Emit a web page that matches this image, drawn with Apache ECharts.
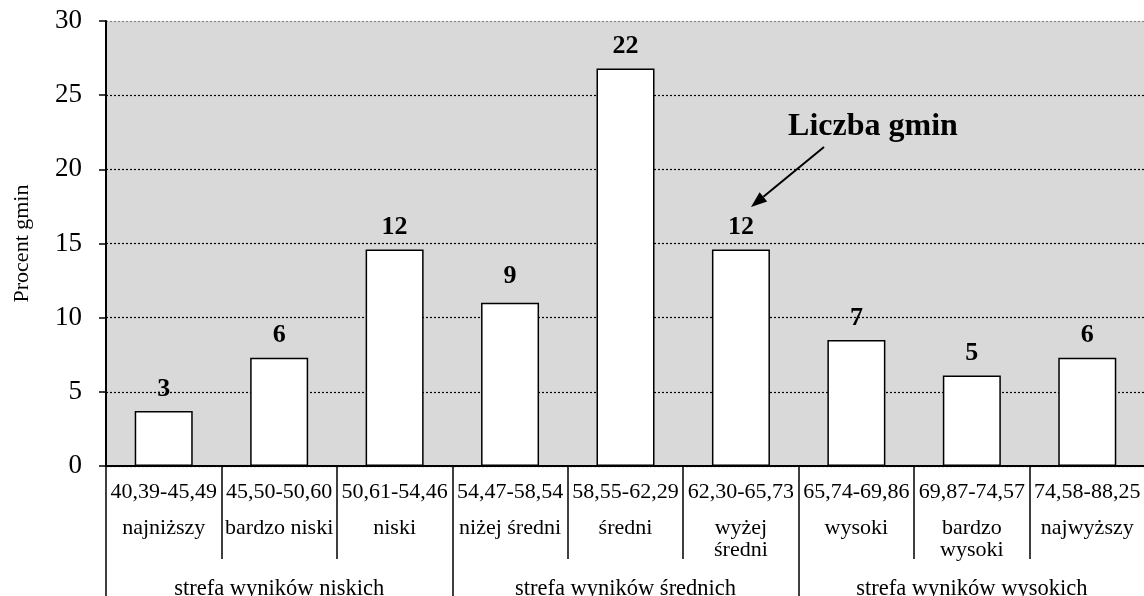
<!DOCTYPE html>
<html>
<head>
<meta charset="utf-8">
<script src="https://cdn.jsdelivr.net/npm/echarts@6/dist/echarts.min.js"></script>
<style>html,body{margin:0;padding:0;background:#fff}#c{width:1144px;height:596px}</style>
</head>
<body>
<div id="c"></div>
<script>
const ranges = ['40,39-45,49','45,50-50,60','50,61-54,46','54,47-58,54','58,55-62,29','62,30-65,73','65,74-69,86','69,87-74,57','74,58-88,25'];
const levels = ['najniższy','bardzo niski','niski','niżej średni','średni','wyżej\nśredni','wysoki','bardzo\nwysoki','najwyższy'];
const zones = ['strefa wyników niskich','strefa wyników średnich','strefa wyników wysokich'];
const percent = [3.7, 7.3, 14.6, 11.0, 26.8, 14.6, 8.5, 6.1, 7.3];
const counts = [3, 6, 12, 9, 22, 12, 7, 5, 6];
const yTicks = [0, 5, 10, 15, 20, 25, 30];

const serif = '"Liberation Serif", "Times New Roman", serif';
const chart = echarts.init(document.getElementById('c'), null, {renderer: 'canvas'});

const labelOffsets = {3: [0, -5]};

chart.setOption({
  animation: false,
  grid: {left: 106, right: -1, top: 21, bottom: 130, show: true, backgroundColor: '#d9d9d9', borderWidth: 0,
         containLabel: false, outerBoundsMode: 'none'},
  xAxis: [
    {
      type: 'category', data: ranges, position: 'bottom',
      axisLine: {show: true, lineStyle: {color: '#000', width: 2}},
      axisTick: {show: true, interval: 0, length: 93, lineStyle: {color: '#000', width: 1.5}},
      axisLabel: {interval: 0, margin: 15, color: '#000', fontFamily: serif, fontSize: 22},
      splitLine: {show: false}
    },
    {
      type: 'category', data: levels, position: 'bottom',
      axisLine: {show: false}, axisTick: {show: false},
      axisLabel: {interval: 0, margin: 51, color: '#000', fontFamily: serif, fontSize: 22, lineHeight: 22},
      splitLine: {show: false}
    },
    {
      type: 'category', data: zones, position: 'bottom',
      axisLine: {show: false},
      axisTick: {show: true, interval: 0, length: 131, lineStyle: {color: '#000', width: 1.5}},
      axisLabel: {interval: 0, margin: 112, color: '#000', fontFamily: serif, fontSize: 22.5},
      splitLine: {show: false}
    }
  ],
  yAxis: {
    type: 'value', min: yTicks[0], max: yTicks[yTicks.length - 1], interval: yTicks[1] - yTicks[0],
    name: 'Procent gmin', nameLocation: 'middle', nameGap: 73,
    nameTextStyle: {color: '#000', fontFamily: serif, fontSize: 22},
    axisLine: {show: true, lineStyle: {color: '#000', width: 2}},
    axisTick: {show: true, length: 7, lineStyle: {color: '#000', width: 1.5}},
    axisLabel: {margin: 24, color: '#000', fontFamily: serif, fontSize: 27},
    splitLine: {show: true, lineStyle: {color: ['#000','#000','#000','#000','#000','#000','#888'], width: 1.2, type: [2, 2]}}
  },
  series: [{
    type: 'bar', xAxisIndex: 0, yAxisIndex: 0,
    barWidth: 58,
    data: percent.map((v, i) => ({value: v, label: {offset: labelOffsets[i] || [0, 0]}})),
    itemStyle: {color: '#fff', borderColor: '#000', borderWidth: 1.5},
    label: {
      show: true, position: 'top', distance: 9,
      formatter: p => String(counts[p.dataIndex]),
      color: '#000', fontFamily: serif, fontWeight: 'bold', fontSize: 26
    }
  }],
  graphic: [
    {type: 'text', x: 873, y: 127, style: {text: 'Liczba gmin', fill: '#000', font: 'bold 32px ' + serif, textAlign: 'center', textVerticalAlign: 'middle'}},
    {type: 'line', shape: {x1: 824, y1: 147, x2: 763.4, y2: 196.8}, style: {stroke: '#000', lineWidth: 2}},
    {type: 'polygon', shape: {points: [[751, 207], [767.2, 201.5], [759.6, 192.2]]}, style: {fill: '#000'}}
  ]
});
</script>
</body>
</html>
